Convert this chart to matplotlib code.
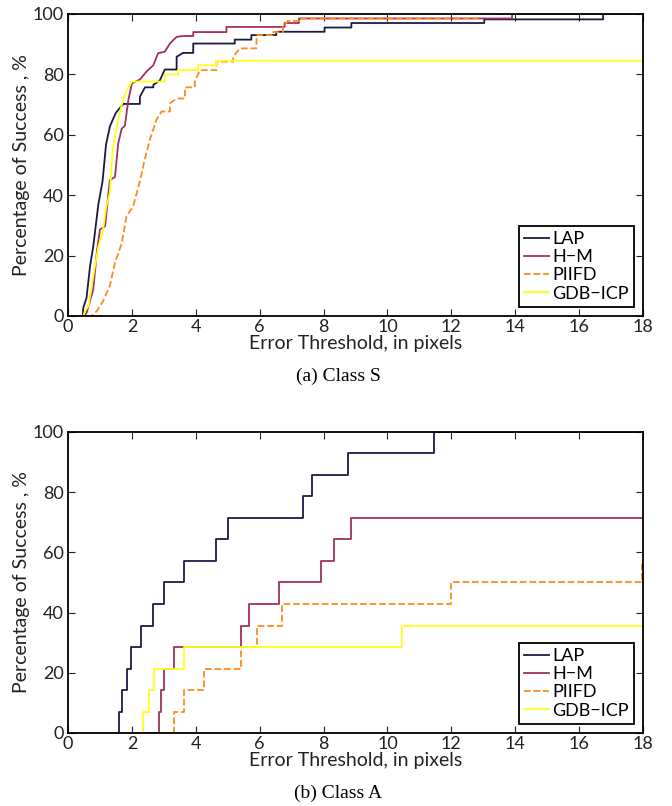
import matplotlib
matplotlib.use("Agg")
import matplotlib.pyplot as plt

plt.rcParams['font.family'] = ['Lato', 'DejaVu Sans']

names = ['LAP', 'H\u2212M', 'PIIFD', 'GDB\u2212ICP']
colors = ['#1c1a45', '#a3305e', '#ff8c1a', '#ffff1a']
styles = ['-', '-', '--', '-']

# Class S (error threshold, % success) - corner points
lap_s_x = [0, 0.46, 0.48, 0.58, 0.69, 0.79, 0.95, 1.08, 1.19, 1.31, 1.39, 1.5, 1.73, 2.25, 2.41,
           2.67, 2.875, 3.03, 3.4, 3.6, 3.92, 5.22, 5.74, 6.52, 8.03, 8.87, 13.03, 16.75, 18]
lap_s_y = [0, 0, 2.75, 6, 16.5, 23, 37, 44.5, 56.7, 62.7, 64.7, 67.3, 70.2, 72.6, 75.7,
           76.5, 78, 81.6, 85.8, 87.1, 90.2, 91.5, 93, 94.1, 95.5, 97, 98.2, 100, 100]
hm_s_x = [0, 0.5, 0.58, 0.79, 0.9, 1.0, 1.16, 1.31, 1.47, 1.57, 1.68, 1.78, 1.89, 2.0, 2.25,
          2.48, 2.67, 2.82, 3.03, 3.19, 3.4, 3.6, 3.92, 4.96, 6.78, 7.23, 13.9, 18]
hm_s_y = [0, 0, 1, 8.8, 21, 28.6, 29.7, 45, 46, 57, 62, 63, 71.5, 77, 78.3,
          81.2, 83, 87, 87.5, 90.2, 92.4, 92.7, 94, 95.7, 97, 98.5, 100, 100]
piifd_s_x = [0, 0.74, 0.9, 1.1, 1.31, 1.47, 1.68, 1.83, 2.04, 2.25, 2.4, 2.56, 2.77, 2.93, 3.19,
             3.4, 3.66, 3.97, 4.13, 4.65, 5.17, 5.375, 5.9, 6.4, 6.73, 6.88, 7.25, 12.82, 18]
piifd_s_y = [0, 0, 1.6, 5, 10, 17.6, 24, 33, 36.3, 44.6, 51.7, 58.3, 65, 67.7, 70.4,
             72, 75.7, 77.6, 81.4, 84.2, 85.8, 88.6, 93, 94, 95.7, 97.7, 98.5, 100, 100]
gdb_s_x = [0, 0.48, 0.53, 0.64, 0.79, 0.95, 1.08, 1.2, 1.31, 1.4, 1.52, 1.68, 1.78, 1.89, 2.0,
           3.03, 3.45, 4.07, 4.65, 18]
gdb_s_y = [0, 0, 1.6, 3.3, 13.2, 23, 27.5, 36.3, 40.7, 55, 62.2, 69.9, 73.2, 75.7, 77.6,
           80, 81.4, 83, 84.5, 84.5]

# Class A
lap_a_x = [0, 1.61, 1.68, 1.86, 1.97, 2.27, 2.66, 3.02, 3.64, 4.64, 5.0, 7.36, 7.64, 8.77, 11.45, 18]
lap_a_y = [0, 7.1, 14.3, 21.4, 28.6, 35.7, 42.9, 50, 57.1, 64.3, 71.4, 78.6, 85.7, 92.9, 100, 100]
hm_a_x = [0, 2.86, 2.9, 3.0, 3.33, 5.4, 5.66, 6.6, 7.92, 8.32, 8.87, 18]
hm_a_y = [0, 7.1, 14.3, 21.4, 28.6, 35.7, 42.9, 50, 57.1, 64.3, 71.4, 71.4]
piifd_a_x = [0, 3.32, 3.64, 4.25, 5.43, 5.92, 6.7, 12.0, 17.97, 18]
piifd_a_y = [0, 7.1, 14.3, 21.4, 28.6, 35.7, 42.9, 50, 57.1, 57.1]
gdb_a_x = [0, 2.36, 2.55, 2.7, 3.64, 10.44, 18]
gdb_a_y = [0, 7.1, 14.3, 21.4, 28.6, 35.7, 35.7]

xticks = list(range(0, 19, 2))
yticks = list(range(0, 101, 20))


def smooth_steps(x, y, gap=0.25):
    # short gaps drawn as a slope, long gaps as a flat step
    px, py = [x[0]], [y[0]]
    for i in range(1, len(x)):
        if x[i] - x[i - 1] > gap:
            px.append(x[i])
            py.append(y[i - 1])
        px.append(x[i])
        py.append(y[i])
    return px, py


fig = plt.figure(figsize=(6.72, 8.06), dpi=100)
ax1 = fig.add_axes([0.1012, 0.608, 0.8557, 0.3747])
ax2 = fig.add_axes([0.1012, 0.0906, 0.8557, 0.3735])

panels = [
    (ax1, [(lap_s_x, lap_s_y), (hm_s_x, hm_s_y), (piifd_s_x, piifd_s_y), (gdb_s_x, gdb_s_y)], '(a) Class S', True),
    (ax2, [(lap_a_x, lap_a_y), (hm_a_x, hm_a_y), (piifd_a_x, piifd_a_y), (gdb_a_x, gdb_a_y)], '(b) Class A', False),
]

for ax, series, caption, smooth in panels:
    for (x, y), name, c, ls in zip(series, names, colors, styles):
        if smooth:
            sx, sy = smooth_steps(x, y)
            ax.plot(sx, sy, color=c, ls=ls, lw=1.3, label=name)
        else:
            ax.plot(x, y, drawstyle='steps-post', color=c, ls=ls, lw=1.3, label=name)
    ax.set_xlim(0, 18)
    ax.set_ylim(0, 100)
    ax.set_xticks(xticks)
    ax.set_yticks(yticks)
    ax.tick_params(direction='in', length=5, width=0.8, top=True, right=True,
                   labelsize=13, colors='#222222')
    ax.tick_params(axis='x', pad=2)
    ax.tick_params(axis='y', pad=3)
    for s in ax.spines.values():
        s.set_linewidth(1.3)
        s.set_color('black')
    ax.set_xlabel('Error Threshold, in pixels', fontsize=14, labelpad=0, color='#222222')
    ax.set_ylabel('Percentage of Success , %', fontsize=14, labelpad=2, color='#222222')
    leg = ax.legend(loc='lower right', fontsize=13, handlelength=1.4, handletextpad=0.15,
                    labelspacing=0.12, borderpad=0.3, borderaxespad=0.5, fancybox=False,
                    framealpha=1)
    leg.get_frame().set_edgecolor('black')
    leg.get_frame().set_linewidth(1.3)
    ax.text(0.47, -0.2, caption, transform=ax.transAxes, ha='center', va='center',
            fontsize=14, family='Liberation Serif')

fig.savefig('out.png', dpi=100)
